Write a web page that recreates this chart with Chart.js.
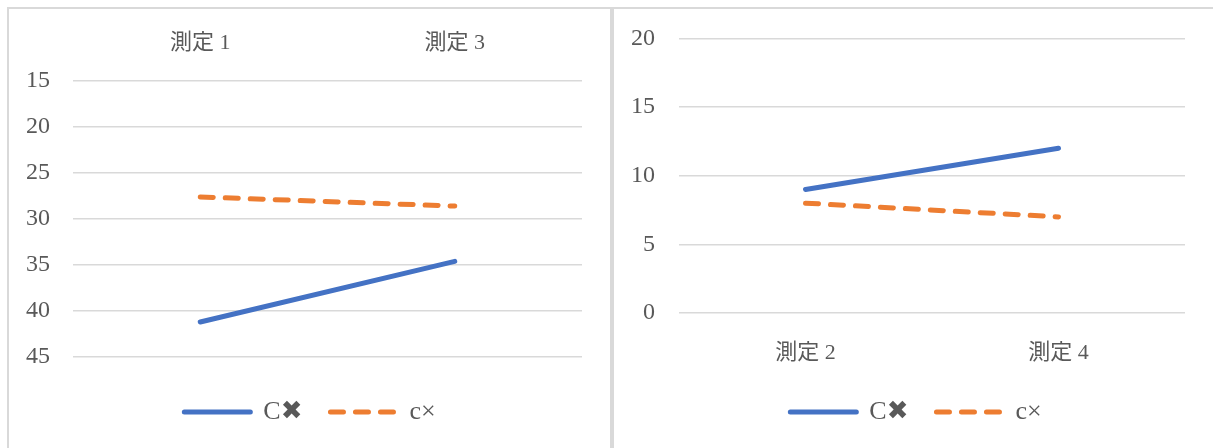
<!DOCTYPE html>
<html>
<head>
<meta charset="utf-8">
<script src="https://cdn.jsdelivr.net/npm/chart.js@4.4.0/dist/chart.umd.min.js"></script>
<style>
  body { margin: 0; background: #fff; width: 1213px; height: 448px; position: relative; overflow: hidden; }
  .frame { position: absolute; top: 7px; height: 470px; border: 2px solid #d9d9d9; box-sizing: border-box; }
  #frameLeft { left: 7px; width: 605px; }
  #frameRight { left: 612px; width: 620px; }
  canvas { position: absolute; top: 0; }
  #chartLeft { left: 0; }
  #chartRight { left: 612px; }
</style>
</head>
<body>
<div class="frame" id="frameLeft"></div>
<div class="frame" id="frameRight"></div>
<canvas id="chartLeft" width="620" height="448"></canvas>
<canvas id="chartRight" width="608" height="448"></canvas>
<script>
const seriesNames = ["C✖", "c×"];
const leftCategories = ["測定 1", "測定 3"];
const leftBigC = [41.2, 34.6];
const leftSmallC = [27.6, 28.6];
const rightCategories = ["測定 2", "測定 4"];
const rightBigC = [9, 12];
const rightSmallC = [8, 7];

const textColor = "#595959";
const gridColor = "#d9d9d9";
const fontFamily = "'Liberation Serif', 'Noto Sans CJK JP', 'DejaVu Sans', serif";
const numFont = { family: fontFamily, size: 24 };
const catFont = { family: fontFamily, size: 22 };
const legendFont = { family: fontFamily, size: 26 };

function makeDatasets(big, small) {
  return [
    {
      label: seriesNames[0],
      data: big,
      borderColor: "#4472C4",
      backgroundColor: "#4472C4",
      borderWidth: 5,
      borderCapStyle: "round",
      pointRadius: 0,
      tension: 0,
    },
    {
      label: seriesNames[1],
      data: small,
      borderColor: "#ED7D31",
      backgroundColor: "#ED7D31",
      borderWidth: 5,
      borderDash: [13, 12],
      borderCapStyle: "round",
      pointRadius: 0,
      tension: 0,
    },
  ];
}

function legendOpts(gap) {
  return {
    position: "bottom",
    // empty title only pushes the legend row down
    title: { display: true, text: "", font: { size: 1 }, padding: { top: gap, bottom: 0 } },
    labels: {
      usePointStyle: true,
      pointStyleWidth: 66,
      padding: 28,
      color: textColor,
      font: legendFont,
      generateLabels(chart) {
        return chart.data.datasets.map((ds, i) => ({
          text: ds.label,
          fillStyle: ds.borderColor,
          strokeStyle: ds.borderColor,
          lineWidth: ds.borderWidth,
          lineDash: ds.borderDash || [],
          lineCap: "round",
          pointStyle: "line",
          fontColor: textColor,
          hidden: false,
          datasetIndex: i,
        }));
      },
    },
  };
}

// spacer axis on the right so the legend sits centred in the frame
function spacer(w) {
  return {
    position: "right",
    grid: { display: false },
    border: { display: false },
    ticks: { display: false },
    afterFit(s) { s.width = w; },
  };
}

// left: reversed axis, categories on top
new Chart(document.querySelector("#chartLeft"), {
  type: "line",
  data: { labels: leftCategories, datasets: makeDatasets(leftBigC, leftSmallC) },
  options: {
    responsive: false,
    animation: false,
    layout: { padding: { left: 0, right: 0, top: 0, bottom: 13 } },
    plugins: { legend: legendOpts(12.8), tooltip: { enabled: false } },
    scales: {
      x: {
        position: "top",
        offset: true,
        grid: { display: false },
        border: { display: false },
        ticks: { color: textColor, font: catFont, padding: 16.4, maxRotation: 0 },
        afterFit(s) { s.height = 81; },
      },
      y: {
        reverse: true,
        min: 15,
        max: 45,
        ticks: { stepSize: 5, color: textColor, font: numFont, padding: 23 },
        grid: { color: gridColor, lineWidth: 1.5, drawTicks: false },
        border: { display: false },
        afterFit(s) { s.width = 73; },
      },
      pad: spacer(38),
    },
  },
});

new Chart(document.querySelector("#chartRight"), {
  type: "line",
  data: { labels: rightCategories, datasets: makeDatasets(rightBigC, rightSmallC) },
  options: {
    responsive: false,
    animation: false,
    layout: { padding: { left: 0, right: 0, top: 37, bottom: 13 } },
    plugins: { legend: legendOpts(2.8), tooltip: { enabled: false } },
    scales: {
      x: {
        offset: true,
        grid: { display: false },
        border: { display: false },
        ticks: { color: textColor, font: catFont, padding: 19, maxRotation: 0 },
        afterFit(s) { s.height = 54; },
      },
      y: {
        min: 0,
        max: 20,
        ticks: { stepSize: 5, color: textColor, font: numFont, padding: 24 },
        grid: { color: gridColor, lineWidth: 1.5, drawTicks: false },
        border: { display: false },
        afterFit(s) { s.width = 67; },
      },
      pad: spacer(35),
    },
  },
});
</script>
</body>
</html>
